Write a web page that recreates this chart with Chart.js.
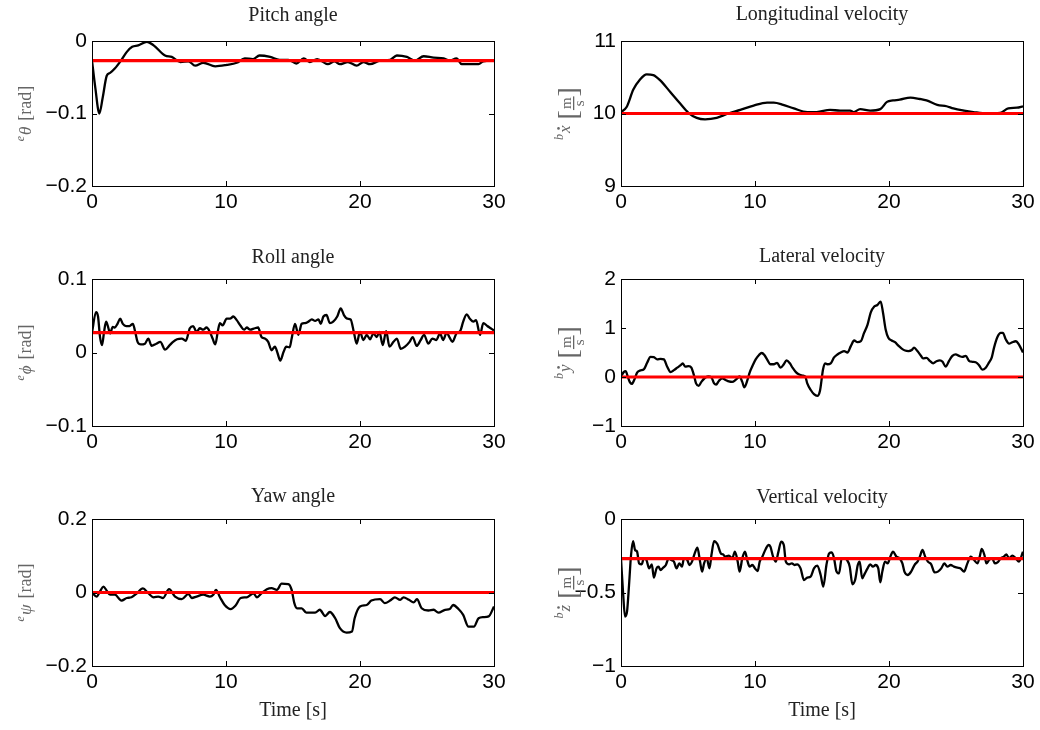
<!DOCTYPE html>
<html>
<head>
<meta charset="utf-8">
<script src="https://cdn.jsdelivr.net/npm/chart.js@4/dist/chart.umd.min.js"></script>
<style>
  body { margin: 0; background: #fff; }
  #wrap { position: relative; width: 1040px; height: 730px; overflow: hidden; }
  #wrap canvas { position: absolute; }
</style>
</head>
<body>
<div id="wrap">
  <canvas id="pitch" width="520" height="240" style="left:0;top:0"></canvas>
  <canvas id="longi" width="520" height="240" style="left:520px;top:0"></canvas>
  <canvas id="roll" width="520" height="240" style="left:0;top:240px"></canvas>
  <canvas id="lat" width="520" height="240" style="left:520px;top:240px"></canvas>
  <canvas id="yaw" width="520" height="250" style="left:0;top:480px"></canvas>
  <canvas id="vert" width="520" height="250" style="left:520px;top:480px"></canvas>
</div>
<script>
// time [s] and measured value for each signal, plus its reference
var pitchT = [0, 0.25, 0.55, 0.8, 1.1, 1.35, 1.7, 2.2, 2.6, 3.0, 3.45, 4.1, 4.6, 5.45, 5.95, 6.6, 7.2, 7.7, 8.3, 9.2, 10.05, 10.8, 11.4, 12.0, 12.5, 13.3, 14.0, 14.65, 15.25, 15.8, 16.25, 16.8, 17.6, 18.1, 18.5, 19.1, 19.75, 20.25, 20.75, 21.5, 22.25, 22.75, 23.5, 24.1, 24.75, 25.5, 26.25, 26.7, 27.2, 27.6, 28.35, 28.85, 29.2, 30];
var pitchV = [-0.027, -0.065, -0.100, -0.078, -0.048, -0.044, -0.038, -0.026, -0.015, -0.008, -0.006, -0.001, -0.006, -0.020, -0.022, -0.029, -0.028, -0.034, -0.030, -0.035, -0.033, -0.030, -0.024, -0.025, -0.020, -0.022, -0.026, -0.026, -0.031, -0.024, -0.029, -0.025, -0.032, -0.028, -0.032, -0.029, -0.034, -0.029, -0.032, -0.027, -0.026, -0.020, -0.022, -0.027, -0.021, -0.023, -0.024, -0.027, -0.024, -0.032, -0.032, -0.032, -0.028, -0.027];
var pitchRef = -0.027;

var longT = [0, 0.42, 0.92, 1.42, 1.92, 2.41, 2.91, 3.66, 4.4, 5.03, 5.65, 6.27, 7.14, 8.0, 8.9, 9.9, 10.9, 11.4, 12.1, 12.9, 13.9, 14.6, 15.6, 16.35, 17.1, 17.35, 17.85, 18.6, 19.35, 19.85, 20.3, 20.8, 21.6, 22.3, 22.8, 23.6, 24.3, 24.8, 25.6, 26.3, 27.3, 28.3, 28.9, 29.55, 30];
var longV = [10.02, 10.09, 10.33, 10.47, 10.54, 10.53, 10.46, 10.30, 10.14, 10.01, 9.94, 9.92, 9.94, 10.0, 10.05, 10.11, 10.15, 10.15, 10.12, 10.07, 10.02, 10.02, 10.05, 10.04, 10.04, 10.02, 10.06, 10.04, 10.06, 10.16, 10.18, 10.19, 10.22, 10.20, 10.18, 10.12, 10.10, 10.07, 10.04, 10.02, 10.0, 10.01, 10.07, 10.08, 10.10];
var longRef = 10;

var rollT = [0, 0.3, 0.45, 0.6, 0.75, 0.9, 1.05, 1.2, 1.35, 1.55, 1.7, 1.9, 2.1, 2.3, 2.55, 2.8, 3.05, 3.2, 3.4, 3.65, 3.95, 4.2, 4.45, 4.8, 5.1, 5.45, 5.8, 6.05, 6.35, 6.7, 7.0, 7.3, 7.55, 7.8, 8.05, 8.3, 8.55, 8.8, 9.0, 9.2, 9.4, 9.55, 9.75, 10.05, 10.3, 10.55, 10.8, 11.1, 11.35, 11.55, 11.8, 12.15, 12.4, 12.65, 12.9, 13.15, 13.4, 13.65, 13.85, 14.05, 14.3, 14.5, 14.75, 14.9, 15.15, 15.4, 15.65, 15.9, 16.15, 16.4, 16.65, 16.9, 17.07, 17.27, 17.5, 17.75, 18.0, 18.3, 18.56, 18.8, 19.06, 19.3, 19.56, 19.75, 20.0, 20.25, 20.5, 20.75, 21.0, 21.25, 21.45, 21.7, 21.95, 22.2, 22.5, 22.75, 23.04, 23.36, 23.7, 23.93, 24.23, 24.53, 24.78, 25.1, 25.4, 25.7, 25.97, 26.2, 26.47, 26.67, 26.9, 27.2, 27.5, 27.7, 27.96, 28.2, 28.46, 28.66, 28.96, 29.2, 29.5, 29.75, 30];
var rollV = [0.027, 0.055, 0.049, 0.021, 0.010, 0.028, 0.042, 0.035, 0.026, 0.035, 0.034, 0.039, 0.046, 0.039, 0.036, 0.036, 0.039, 0.030, 0.0145, 0.011, 0.012, 0.019, 0.009, 0.012, 0.0145, 0.004, 0.010, 0.0145, 0.018, 0.019, 0.016, 0.033, 0.036, 0.028, 0.033, 0.031, 0.034, 0.028, 0.019, 0.011, 0.030, 0.040, 0.037, 0.046, 0.046, 0.049, 0.044, 0.036, 0.031, 0.034, 0.031, 0.033, 0.034, 0.021, 0.019, 0.0145, 0.003, 0.008, -0.001, -0.011, 0.001, 0.008, 0.007, 0.019, 0.039, 0.024, 0.039, 0.040, 0.042, 0.045, 0.043, 0.045, 0.039, 0.049, 0.051, 0.040, 0.042, 0.049, 0.060, 0.051, 0.046, 0.045, 0.026, 0.012, 0.028, 0.017, 0.024, 0.018, 0.026, 0.021, 0.028, 0.010, 0.029, 0.008, 0.0145, 0.019, 0.005, 0.008, 0.0145, 0.021, 0.009, 0.017, 0.024, 0.012, 0.019, 0.017, 0.026, 0.017, 0.027, 0.021, 0.0145, 0.026, 0.030, 0.042, 0.052, 0.046, 0.042, 0.044, 0.024, 0.040, 0.036, 0.033, 0.030];
var rollRef = 0.027;

var latT = [0, 0.2, 0.35, 0.5, 0.65, 0.8, 1.0, 1.2, 1.45, 1.7, 1.95, 2.2, 2.45, 2.7, 2.95, 3.2, 3.45, 3.7, 3.95, 4.2, 4.45, 4.6, 4.8, 5.05, 5.25, 5.45, 5.6, 5.8, 6.0, 6.25, 6.5, 6.75, 6.95, 7.1, 7.3, 7.55, 7.8, 8.05, 8.3, 8.55, 8.85, 9.05, 9.2, 9.45, 9.6, 9.8, 10.05, 10.3, 10.5, 10.7, 10.9, 11.15, 11.4, 11.65, 11.9, 12.15, 12.35, 12.6, 12.8, 13.05, 13.3, 13.55, 13.75, 13.9, 14.15, 14.4, 14.65, 14.85, 15.08, 15.23, 15.4, 15.65, 15.9, 16.15, 16.4, 16.65, 16.9, 17.15, 17.4, 17.65, 17.9, 18.14, 18.4, 18.64, 18.9, 19.13, 19.38, 19.56, 19.75, 19.95, 20.2, 20.45, 20.7, 20.95, 21.2, 21.45, 21.7, 21.87, 22.12, 22.37, 22.54, 22.8, 23.04, 23.3, 23.54, 23.8, 24.0, 24.23, 24.48, 24.73, 24.98, 25.23, 25.48, 25.73, 25.97, 26.22, 26.47, 26.72, 26.97, 27.22, 27.47, 27.67, 27.84, 28.1, 28.34, 28.5, 28.71, 28.96, 29.2, 29.46, 29.7, 30];
var latV = [0.01, 0.10, 0.12, 0.01, -0.10, -0.14, -0.05, 0.09, 0.135, 0.155, 0.29, 0.41, 0.405, 0.36, 0.37, 0.36, 0.21, 0.10, 0.14, 0.19, 0.24, 0.28, 0.21, 0.22, 0.19, 0.03, -0.13, -0.18, -0.10, -0.02, 0.01, -0.01, -0.13, -0.155, -0.08, -0.03, -0.06, -0.09, -0.10, -0.06, 0.01, -0.10, -0.21, -0.05, 0.09, 0.22, 0.36, 0.45, 0.49, 0.45, 0.36, 0.26, 0.26, 0.29, 0.19, 0.26, 0.34, 0.28, 0.19, 0.10, 0.05, 0.03, 0.01, -0.13, -0.26, -0.35, -0.385, -0.28, 0.16, 0.28, 0.26, 0.28, 0.40, 0.46, 0.50, 0.53, 0.50, 0.63, 0.745, 0.71, 0.73, 0.90, 1.07, 1.32, 1.44, 1.47, 1.54, 1.30, 0.97, 0.80, 0.745, 0.71, 0.64, 0.58, 0.54, 0.53, 0.55, 0.60, 0.53, 0.44, 0.38, 0.39, 0.33, 0.28, 0.32, 0.34, 0.31, 0.21, 0.33, 0.43, 0.46, 0.43, 0.41, 0.43, 0.33, 0.31, 0.30, 0.24, 0.15, 0.19, 0.30, 0.40, 0.60, 0.82, 0.90, 0.90, 0.77, 0.68, 0.71, 0.73, 0.66, 0.50];
var latRef = 0;

var yawT = [0, 0.35, 0.6, 0.85, 1.1, 1.35, 1.7, 2.2, 2.6, 2.95, 3.35, 3.8, 4.2, 4.6, 4.95, 5.3, 5.75, 6.2, 6.7, 7.2, 7.45, 7.8, 8.3, 8.8, 9.05, 9.25, 9.55, 9.9, 10.35, 10.7, 11.1, 11.55, 12.05, 12.3, 12.65, 13.05, 13.4, 13.8, 14.15, 14.65, 14.9, 15.1, 15.3, 15.65, 16.0, 16.65, 17.0, 17.4, 17.75, 18.15, 18.5, 19.0, 19.4, 19.6, 20.0, 20.5, 20.85, 21.5, 21.85, 22.25, 22.6, 23.0, 23.25, 23.65, 24.0, 24.25, 24.6, 25.1, 25.5, 25.85, 26.35, 26.7, 26.95, 27.35, 27.7, 28.1, 28.5, 28.85, 29.2, 29.6, 30];
var yawV = [0, -0.011, 0.003, 0.016, 0.005, -0.006, -0.006, -0.022, -0.015, -0.013, -0.002, 0.011, -0.002, -0.013, -0.011, -0.015, 0.009, -0.011, -0.018, -0.004, -0.015, -0.011, -0.006, -0.011, -0.006, 0.007, -0.013, -0.034, -0.045, -0.036, -0.015, -0.013, -0.002, -0.013, -0.002, 0.009, 0.012, 0.007, 0.024, 0.023, 0.007, -0.029, -0.043, -0.043, -0.055, -0.055, -0.047, -0.064, -0.053, -0.070, -0.097, -0.109, -0.106, -0.070, -0.038, -0.034, -0.022, -0.018, -0.029, -0.022, -0.013, -0.020, -0.013, -0.020, -0.027, -0.018, -0.043, -0.049, -0.047, -0.055, -0.047, -0.045, -0.034, -0.045, -0.061, -0.093, -0.093, -0.070, -0.067, -0.065, -0.038];
var yawRef = 0;

var vertT = [0, 0.15, 0.3, 0.45, 0.6, 0.75, 0.9, 1.05, 1.2, 1.35, 1.55, 1.7, 1.9, 2.1, 2.3, 2.45, 2.65, 2.8, 2.95, 3.15, 3.35, 3.55, 3.75, 3.95, 4.15, 4.35, 4.55, 4.7, 4.95, 5.1, 5.3, 5.5, 5.7, 5.9, 6.05, 6.2, 6.4, 6.6, 6.75, 6.95, 7.2, 7.45, 7.6, 7.8, 8.05, 8.3, 8.5, 8.7, 8.85, 9.05, 9.25, 9.45, 9.6, 9.8, 10.0, 10.2, 10.35, 10.55, 10.8, 11.0, 11.15, 11.35, 11.55, 11.75, 11.95, 12.15, 12.3, 12.55, 12.75, 12.95, 13.15, 13.4, 13.65, 13.9, 14.15, 14.4, 14.65, 14.9, 15.1, 15.33, 15.53, 15.73, 15.9, 16.07, 16.27, 16.47, 16.67, 16.87, 17.07, 17.27, 17.47, 17.67, 17.81, 18.0, 18.2, 18.4, 18.6, 18.8, 19.0, 19.2, 19.35, 19.5, 19.7, 19.9, 20.1, 20.3, 20.55, 20.8, 21.0, 21.15, 21.4, 21.65, 21.9, 22.15, 22.3, 22.5, 22.7, 22.9, 23.15, 23.4, 23.65, 23.9, 24.13, 24.36, 24.6, 24.85, 25.1, 25.35, 25.6, 25.85, 26.1, 26.35, 26.6, 26.77, 26.92, 27.12, 27.27, 27.47, 27.7, 27.9, 28.1, 28.34, 28.58, 28.76, 28.96, 29.2, 29.46, 29.7, 30];
var vertV = [-0.27, -0.494, -0.664, -0.630, -0.449, -0.245, -0.150, -0.211, -0.222, -0.302, -0.308, -0.268, -0.279, -0.336, -0.308, -0.399, -0.336, -0.324, -0.347, -0.331, -0.313, -0.268, -0.279, -0.290, -0.336, -0.302, -0.324, -0.268, -0.279, -0.313, -0.290, -0.234, -0.195, -0.290, -0.358, -0.302, -0.268, -0.336, -0.245, -0.150, -0.172, -0.234, -0.240, -0.256, -0.249, -0.268, -0.222, -0.286, -0.358, -0.268, -0.222, -0.290, -0.324, -0.313, -0.336, -0.354, -0.290, -0.256, -0.204, -0.177, -0.188, -0.256, -0.290, -0.222, -0.154, -0.177, -0.290, -0.308, -0.302, -0.313, -0.308, -0.336, -0.415, -0.399, -0.392, -0.336, -0.317, -0.381, -0.460, -0.313, -0.234, -0.227, -0.268, -0.354, -0.370, -0.268, -0.268, -0.279, -0.324, -0.444, -0.415, -0.313, -0.290, -0.404, -0.370, -0.336, -0.308, -0.324, -0.313, -0.336, -0.431, -0.358, -0.290, -0.302, -0.256, -0.222, -0.256, -0.268, -0.302, -0.358, -0.381, -0.358, -0.313, -0.286, -0.256, -0.211, -0.256, -0.290, -0.308, -0.363, -0.358, -0.336, -0.302, -0.324, -0.313, -0.324, -0.331, -0.336, -0.358, -0.302, -0.256, -0.279, -0.302, -0.256, -0.204, -0.245, -0.302, -0.279, -0.268, -0.302, -0.295, -0.268, -0.256, -0.240, -0.268, -0.249, -0.268, -0.290, -0.222];
var vertRef = -0.27;

var TICK_FONT = { family: '"Liberation Sans", Arial, sans-serif', size: 21 };
var SERIF = '"Liberation Serif", "Times New Roman", serif';

function fmtTick(v) {
    var s = String(Math.round(v * 10) / 10);
    return s.replace('-', '\u2212');
}

// y axis label: superscript frame, italic symbol (dotted for rates), unit
function drawYLabel(ctx, x, y, lab) {
    ctx.save();
    ctx.translate(x, y);
    ctx.rotate(-Math.PI / 2);
    ctx.fillStyle = '#666';
    ctx.textBaseline = 'alphabetic';
    ctx.textAlign = 'left';
    var supFont = 'italic 12px ' + SERIF;
    var symFont = 'italic 17px ' + SERIF;
    var unitFont = '18px ' + SERIF;
    var brFont = '28px ' + SERIF;
    var fracFont = '15px ' + SERIF;
    ctx.font = supFont; var w1 = ctx.measureText(lab.sup).width + 1;
    ctx.font = symFont; var w2 = ctx.measureText(lab.sym).width;
    var gap = 6, w3, wb = 0, wm = 0;
    if (lab.unit === 'rad') {
        ctx.font = unitFont; w3 = ctx.measureText('[rad]').width;
    } else {
        ctx.font = brFont; wb = ctx.measureText('[').width;
        ctx.font = fracFont; wm = ctx.measureText('m').width + 2;
        w3 = wb * 2 + wm;
    }
    var cx = -(w1 + w2 + gap + w3) / 2;
    ctx.font = supFont; ctx.fillText(lab.sup, cx, -7); cx += w1;
    ctx.font = symFont; ctx.fillText(lab.sym, cx, 0);
    if (lab.dot) {
        ctx.beginPath();
        ctx.arc(cx + w2 * 0.6, -11.5, 1.3, 0, Math.PI * 2);
        ctx.fill();
    }
    cx += w2 + gap;
    if (lab.unit === 'rad') {
        ctx.font = unitFont; ctx.fillText('[rad]', cx, 0);
    } else {
        ctx.font = brFont; ctx.fillText('[', cx, 7); cx += wb;
        ctx.font = fracFont; ctx.textAlign = 'center';
        ctx.fillText('m', cx + wm / 2, 1);
        ctx.fillText('s', cx + wm / 2, 14);
        ctx.fillRect(cx, 3, wm, 1.3);
        ctx.textAlign = 'left';
        cx += wm;
        ctx.font = brFont; ctx.fillText(']', cx, 7);
    }
    ctx.restore();
}

// box, inward ticks, title and labels
var framePlugin = {
    id: 'frame',
    afterDraw: function (chart, args, o) {
        var ctx = chart.ctx, a = chart.chartArea;
        var xs = chart.scales.x, ys = chart.scales.y;
        ctx.save();
        ctx.strokeStyle = '#000';
        ctx.lineWidth = 1;
        ctx.beginPath();
        xs.ticks.forEach(function (t) {
            var px = Math.round(xs.getPixelForValue(t.value)) + 0.5;
            ctx.moveTo(px, a.bottom); ctx.lineTo(px, a.bottom - 5);
            ctx.moveTo(px, a.top); ctx.lineTo(px, a.top + 5);
        });
        ys.ticks.forEach(function (t) {
            var py = Math.round(ys.getPixelForValue(t.value)) + 0.5;
            ctx.moveTo(a.left, py); ctx.lineTo(a.left + 5, py);
            ctx.moveTo(a.right, py); ctx.lineTo(a.right - 5, py);
        });
        ctx.stroke();
        ctx.strokeRect(Math.round(a.left) + 0.5, Math.round(a.top) + 0.5,
            Math.round(a.right - a.left), Math.round(a.bottom - a.top));

        ctx.fillStyle = '#222';
        ctx.textAlign = 'center';
        ctx.textBaseline = 'alphabetic';
        ctx.font = '20px ' + SERIF;
        ctx.fillText(o.title, (a.left + a.right) / 2, o.titleY);
        if (o.xlabel) {
            ctx.fillText(o.xlabel, (a.left + a.right) / 2, 236);
        }
        ctx.restore();
        drawYLabel(ctx, o.labelX, (a.top + a.bottom) / 2, o.ylabel);
    }
};

function makeChart(id, t, v, ref, box, yr, opts) {
    var pts = t.map(function (ti, i) { return { x: ti, y: v[i] }; });
    var canvas = document.getElementById(id);
    var W = canvas.width, H = canvas.height;
    return new Chart(canvas, {
        type: 'line',
        data: {
            datasets: [{
                data: [{ x: 0, y: ref }, { x: 30, y: ref }],
                borderColor: '#ff0000',
                borderWidth: 3.2,
                pointRadius: 0
            }, {
                data: pts,
                borderColor: '#000000',
                borderWidth: 2.3,
                pointRadius: 0,
                cubicInterpolationMode: 'monotone'
            }]
        },
        options: {
            responsive: false,
            animation: false,
            events: [],
            layout: { padding: { left: 0, top: box.top, right: W - box.right, bottom: 0 } },
            plugins: {
                legend: { display: false },
                tooltip: { enabled: false },
                frame: opts
            },
            scales: {
                x: {
                    type: 'linear', min: 0, max: 30,
                    grid: { display: false, drawTicks: false },
                    border: { display: false },
                    ticks: { stepSize: 10, font: TICK_FONT, color: '#000', padding: 4, maxRotation: 0 },
                    afterFit: function (s) { s.height = H - box.bottom; }
                },
                y: {
                    min: yr[0], max: yr[1],
                    grid: { display: false, drawTicks: false },
                    border: { display: false },
                    ticks: { stepSize: yr[2], font: TICK_FONT, color: '#000', padding: 5, callback: fmtTick },
                    afterFit: function (s) { s.width = box.left; }
                }
            }
        },
        plugins: [framePlugin]
    });
}

var leftBox = function (top) { return { left: 92, right: 494, top: top, bottom: 186 }; };
var rightBox = function (top) { return { left: 101, right: 503, top: top, bottom: 186 }; };

makeChart('pitch', pitchT, pitchV, pitchRef, leftBox(41), [-0.2, 0, 0.1],
    { title: 'Pitch angle', titleY: 21, labelX: 31, ylabel: { sup: 'e', sym: '\u03B8', unit: 'rad' } });
makeChart('longi', longT, longV, longRef, rightBox(41), [9, 11, 1],
    { title: 'Longitudinal velocity', titleY: 20, labelX: 50, ylabel: { sup: 'b', sym: 'x', dot: true, unit: 'ms' } });
makeChart('roll', rollT, rollV, rollRef, leftBox(39), [-0.1, 0.1, 0.1],
    { title: 'Roll angle', titleY: 23, labelX: 31, ylabel: { sup: 'e', sym: '\u03D5', unit: 'rad' } });
makeChart('lat', latT, latV, latRef, rightBox(39), [-1, 2, 1],
    { title: 'Lateral velocity', titleY: 22, labelX: 50, ylabel: { sup: 'b', sym: 'y', dot: true, unit: 'ms' } });
makeChart('yaw', yawT, yawV, yawRef, leftBox(39), [-0.2, 0.2, 0.2],
    { title: 'Yaw angle', titleY: 22, labelX: 31, ylabel: { sup: 'e', sym: '\u03C8', unit: 'rad' }, xlabel: 'Time [s]' });
makeChart('vert', vertT, vertV, vertRef, rightBox(39), [-1, 0, 0.5],
    { title: 'Vertical velocity', titleY: 23, labelX: 50, ylabel: { sup: 'b', sym: 'z', dot: true, unit: 'ms' }, xlabel: 'Time [s]' });
</script>
</body>
</html>
